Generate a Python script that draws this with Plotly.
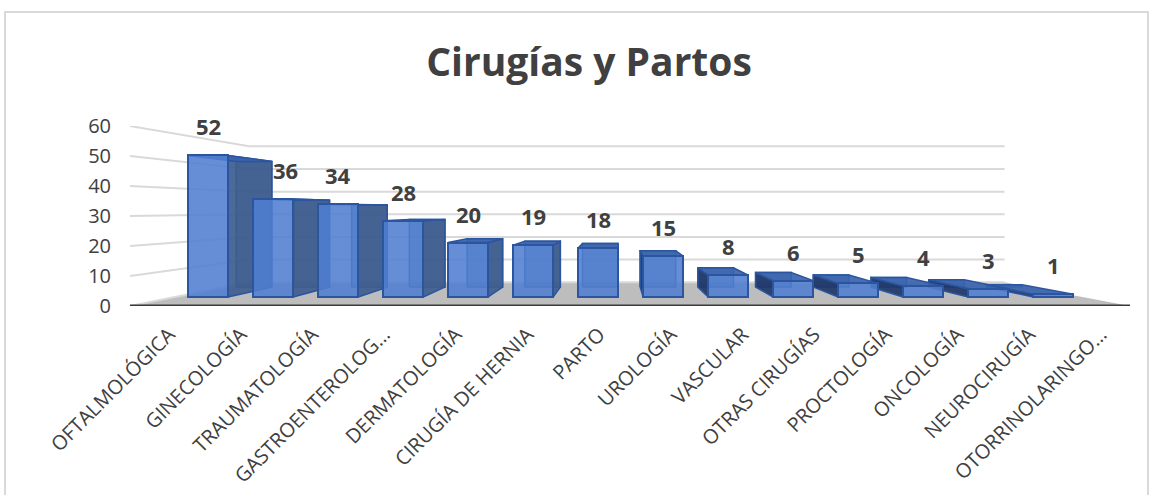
import plotly.graph_objects as go

categories = ["OFTALMOLÓGICA", "GINECOLOGÍA", "TRAUMATOLOGÍA", "GASTROENTEROLOG…",
              "DERMATOLOGÍA", "CIRUGÍA DE HERNIA", "PARTO", "UROLOGÍA", "VASCULAR",
              "OTRAS CIRUGÍAS", "PROCTOLOGÍA", "ONCOLOGÍA", "NEUROCIRUGÍA", "OTORRINOLARINGO…"]
values = [52, 36, 34, 28, 20, 19, 18, 15, 8, 6, 5, 4, 3, 1]
y_ticks = [0, 10, 20, 30, 40, 50, 60]
title = "Cirugías y Partos"

# perspective model (depth scale: 1 = front of the floor)
VC, VV = 6.29, 32.33          # vanishing point in axis units
S_FRONT, S_BAR_BACK, S_WALL = 0.907, 0.805, 0.755
HALF = 0.308
LEFT, RIGHT = -0.508, 13.45
INK = "#404040"
FONT = "Open Sans, Liberation Sans, sans-serif"


def project(cat, val, s):
    return VC + (cat - VC) * s / S_FRONT, VV + (val - VV) * s


def polygons(polys):
    xs, ys = [], []
    for p in polys:
        pts = [project(*q) for q in p]
        pts.append(pts[0])
        xs += [a for a, _ in pts] + [None]
        ys += [b for _, b in pts] + [None]
    return xs, ys


def face(polys, fill, line="#2B559F", width=1.5):
    xs, ys = polygons(polys)
    return go.Scatter(x=xs, y=ys, mode="lines", fill="toself", fillcolor=fill,
                      line=dict(color=line, width=width), hoverinfo="skip",
                      showlegend=False, zorder=1)


fig = go.Figure()

# floor
fig.add_trace(face([[(LEFT, 0, 1), (RIGHT, 0, 1), (RIGHT, 0, S_WALL), (LEFT, 0, S_WALL)]],
                   "#BDBDBD", "#BDBDBD", 0))
# wall gridlines
gx, gy = [], []
for t in y_ticks:
    for q in [(LEFT, t, 1), (LEFT, t, S_WALL), (RIGHT, t, S_WALL)]:
        a, b = project(*q)
        gx.append(a)
        gy.append(b)
    gx.append(None)
    gy.append(None)
fig.add_trace(go.Scatter(x=gx, y=gy, mode="lines", line=dict(color="#D9D9D9", width=2),
                         hoverinfo="skip", showlegend=False, zorder=1))

back, right_side, left_side, top = [], [], [], []
for i, v in enumerate(values):
    l, r = i - HALF, i + HALF
    f, b = S_FRONT, S_BAR_BACK
    back.append([(l, 0, b), (r, 0, b), (r, v, b), (l, v, b)])
    top.append([(l, v, f), (r, v, f), (r, v, b), (l, v, b)])
    if project(r, 0, f)[0] < VC:
        right_side.append([(r, 0, f), (r, 0, b), (r, v, b), (r, v, f)])
    if project(l, 0, f)[0] > VC:
        left_side.append([(l, 0, f), (l, 0, b), (l, v, b), (l, v, f)])

fig.add_trace(face(back, "rgba(50,80,130,0.55)"))
fig.add_trace(face(left_side, "rgba(30,55,105,0.92)"))
fig.add_trace(face(right_side, "rgba(62,92,142,0.92)"))
fig.add_trace(face(top, "rgba(58,100,175,0.92)"))

# front faces
base_y = [project(i, 0, S_FRONT)[1] for i in range(len(values))]
top_y = [project(i, v, S_FRONT)[1] for i, v in enumerate(values)]
fig.add_trace(go.Bar(x=list(range(len(values))), y=[t - b for t, b in zip(top_y, base_y)],
                     base=base_y, width=2 * HALF,
                     marker=dict(color="rgba(80,126,208,0.88)",
                                 line=dict(color="#2B559F", width=2)),
                     hoverinfo="skip", showlegend=False, zorder=2))

# front edge of the floor
ex0, ey0 = project(LEFT, 0, 1)
ex1, ey1 = project(RIGHT, 0, 1)
fig.add_trace(go.Scatter(x=[ex0, ex1], y=[ey0, ey1], mode="lines", cliponaxis=False,
                         line=dict(color="#3A3A3A", width=3), hoverinfo="skip",
                         showlegend=False, zorder=3))

# value labels
for i, v in enumerate(values):
    fig.add_annotation(x=i, y=top_y[i], text=f"<b>{v}</b>", showarrow=False,
                       yanchor="bottom", yshift=12, xshift=12 if i == 1 else 0,
                       font=dict(family=FONT, size=22, color=INK))

fig.add_shape(type="rect", xref="paper", yref="paper", x0=-0.125, x1=1.018, y0=-1.06, y1=1.634,
              line=dict(color="#D9D9D9", width=2), layer="below")

fig.update_layout(
    width=1158, height=495, autosize=False, bargap=0,
    margin=dict(l=130, r=28, t=126, b=189),
    paper_bgcolor="white", plot_bgcolor="rgba(0,0,0,0)",
    showlegend=False,
    title=dict(text=f"<b>{title}</b>", x=589 / 1158, y=1 - 62 / 495, xanchor="center",
               yanchor="middle", font=dict(family=FONT, size=39, color=INK)),
    font=dict(family=FONT, color=INK),
    xaxis=dict(range=[-1.2, 14.18], tickmode="array",
               tickvals=[project(i, 0, 1)[0] for i in range(len(values))],
               ticktext=categories, tickangle=-45, ticklabelshift=3, showgrid=False,
               zeroline=False, showline=False, automargin=False,
               ticks="outside", ticklen=8, tickcolor="rgba(0,0,0,0)",
               tickfont=dict(family=FONT, size=20, color=INK)),
    yaxis=dict(range=[0, 60], tickmode="array", tickvals=y_ticks, showgrid=False,
               zeroline=False, showline=False, automargin=False, ticks="outside", ticklen=14,
               tickcolor="rgba(0,0,0,0)", tickfont=dict(family=FONT, size=20, color=INK)),
)

fig.write_html("out.html", config=dict(displayModeBar=False),
               post_script="document.body.style.margin='0';")
